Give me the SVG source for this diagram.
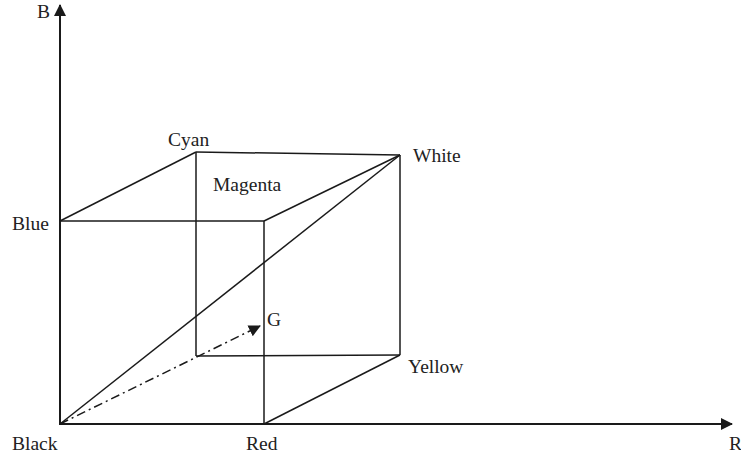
<svg xmlns="http://www.w3.org/2000/svg" width="741" height="458" viewBox="0 0 741 458">
<defs>
<style>
.ln{stroke:#1a1a1a;stroke-width:1.5;fill:none}
.ax{stroke:#1a1a1a;stroke-width:2;fill:none}
.t{font-family:"Liberation Serif",serif;font-size:19.5px;fill:#222}
</style>
<marker id="ah" viewBox="0 0 12 12" refX="11" refY="6" markerWidth="12" markerHeight="12" markerUnits="userSpaceOnUse" orient="auto"><path d="M0,0L12,6L0,12Z" fill="#1a1a1a"/></marker>
<marker id="ah2" viewBox="0 0 12 12" refX="11" refY="6" markerWidth="12" markerHeight="12" markerUnits="userSpaceOnUse" orient="auto"><path d="M0,0L12,6L0,12Z" fill="#1a1a1a"/></marker>
</defs>
<g id="connectors">
<line class="ax" x1="60" y1="425" x2="60" y2="5" marker-end="url(#ah)"/>
<line class="ax" x1="60" y1="424" x2="732" y2="424" marker-end="url(#ah)"/>
<line class="ln" x1="60" y1="221" x2="264" y2="221"/>
<line class="ln" x1="264" y1="221" x2="264" y2="424"/>
<line class="ln" x1="60" y1="221" x2="196" y2="152"/>
<line class="ln" x1="196" y1="152" x2="400" y2="155"/>
<line class="ln" x1="264" y1="221" x2="400" y2="155"/>
<line class="ln" x1="400" y1="155" x2="400" y2="355"/>
<line class="ln" x1="196" y1="152" x2="196" y2="356"/>
<line class="ln" x1="196" y1="356" x2="400" y2="355"/>
<line class="ln" x1="264" y1="424" x2="400" y2="355"/>
<line class="ln" x1="60" y1="424" x2="400" y2="155"/>
<line class="ln" x1="60" y1="424" x2="260" y2="326" stroke-dasharray="9,4,2,4" marker-end="url(#ah2)"/>
</g>
<g id="B"><text class="t" x="37" y="18">B</text></g>
<g id="R"><text class="t" x="729" y="450">R</text></g>
<g id="Black"><text class="t" x="12" y="450">Black</text></g>
<g id="Red"><text class="t" x="246" y="450">Red</text></g>
<g id="Blue"><text class="t" x="12" y="230">Blue</text></g>
<g id="Cyan"><text class="t" x="168" y="146">Cyan</text></g>
<g id="White"><text class="t" x="413" y="162">White</text></g>
<g id="Magenta"><text class="t" x="213" y="191">Magenta</text></g>
<g id="G"><text class="t" x="267" y="326">G</text></g>
<g id="Yellow"><text class="t" x="408" y="373">Yellow</text></g>
</svg>
